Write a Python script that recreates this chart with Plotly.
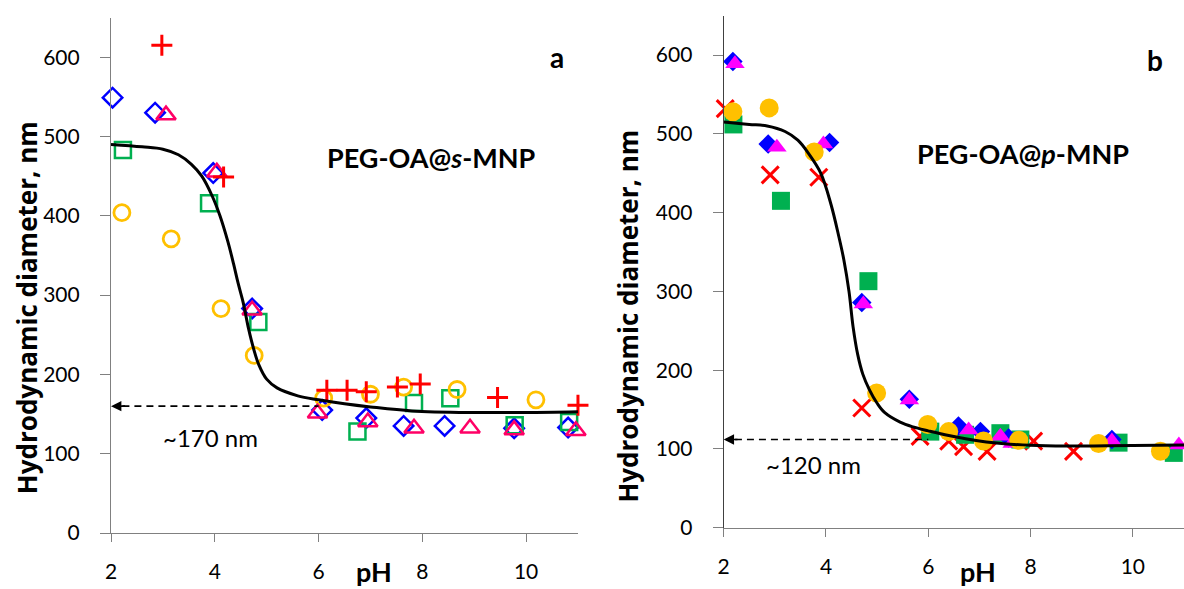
import plotly.graph_objects as go
from plotly.subplots import make_subplots

# %% panel a: PEG-OA@s-MNP (open symbols)
a_diamond_ph = [2.03, 2.85, 3.97, 4.72, 6.07, 6.92, 7.64, 8.43, 9.77, 10.81]
a_diamond_d = [549, 530, 454, 283, 155, 145, 135, 135, 132, 133]
a_square_ph = [2.23, 3.89, 4.84, 6.75, 7.84, 8.54, 9.78, 10.83]
a_square_d = [483, 416, 266, 128, 164, 170, 136, 140]
a_circle_ph = [2.21, 3.16, 4.12, 4.76, 6.10, 7.00, 7.64, 8.67, 10.19]
a_circle_d = [404, 371, 283, 224, 170, 175, 184, 181, 168]
a_triangle_ph = [3.06, 4.04, 4.72, 5.98, 6.95, 7.84, 8.92, 9.77, 10.96]
a_triangle_d = [527, 455, 281, 151, 140, 132, 132, 130, 129]
a_plus_ph = [2.98, 4.17, 6.16, 6.55, 6.92, 7.52, 7.96, 9.45, 11.0]
a_plus_d = [615, 449, 180, 180, 178, 184, 188, 171, 161]

a_fit_ph = [2.0, 2.6, 3.0, 3.3, 3.55, 3.75, 3.95, 4.1, 4.25, 4.36, 4.45, 4.55,
            4.65, 4.75, 4.85, 5.0, 5.2, 5.6, 6.0, 6.5, 7.0, 7.8, 9.0, 10.0, 11.0]
a_fit_d = [490, 487, 484, 477, 465, 450, 425, 400, 368, 340, 315, 290,
           258, 232, 212, 194, 183, 173, 168, 163, 159, 154, 152, 152, 153]
a_plateau = 160
a_label = "~170 nm"

# %% panel b: PEG-OA@p-MNP (filled symbols)
b_x_ph = [2.03, 2.91, 3.86, 4.70, 5.84, 6.40, 6.69, 7.15, 8.06, 8.84]
b_x_d = [532, 448, 445, 152, 116, 110, 103, 97, 110, 97]
b_square_ph = [2.19, 3.12, 4.83, 6.04, 6.72, 7.41, 7.80, 9.72, 10.80]
b_square_d = [512, 415, 313, 122, 118, 120, 112, 108, 95]
b_diamond_ph = [2.18, 2.87, 4.07, 4.70, 5.63, 6.59, 7.02, 7.57, 9.59]
b_diamond_d = [592, 487, 489, 286, 163, 129, 122, 114, 112]
b_triangle_ph = [2.22, 3.04, 3.95, 4.73, 5.63, 6.79, 7.41, 7.64, 9.59, 10.90]
b_triangle_d = [589, 483, 487, 284, 162, 124, 116, 107, 110, 105]
b_circle_ph = [2.18, 2.89, 3.77, 4.99, 5.99, 6.40, 7.08, 7.77, 9.33, 10.54]
b_circle_d = [528, 533, 477, 171, 131, 122, 110, 111, 107, 97]

b_fit_ph = [2.0, 2.5, 2.85, 3.2, 3.45, 3.65, 3.9, 4.1, 4.25, 4.35, 4.45, 4.53,
            4.62, 4.72, 4.85, 5.0, 5.15, 5.45, 5.7, 6.0, 6.4, 7.0, 7.6, 8.3, 9.5, 11.0]
b_fit_d = [515, 512, 510, 503, 492, 476, 450, 410, 370, 340, 300, 255,
           220, 195, 175, 158, 146, 134, 128, 123, 117, 110, 106, 104, 104, 105]
b_plateau = 112
b_label = "~120 nm"

arrow_start = 6.0

FONT = "Lato"

fig = make_subplots(rows=1, cols=2)

def pts(x, y, symbol, color, size, col, lw=2.5):
    fig.add_trace(go.Scatter(
        x=x, y=y, mode="markers", cliponaxis=False,
        marker=dict(symbol=symbol, size=size, color=color,
                    line=dict(color=color, width=lw)),
        showlegend=False), row=1, col=col)

pts(a_diamond_ph, a_diamond_d, "diamond-open", "#0000FF", 15, 1)
pts(a_square_ph, a_square_d, "square-open", "#00B050", 16, 1)
pts(a_circle_ph, a_circle_d, "circle-open", "#FFC000", 16, 1, lw=2.8)
pts(a_triangle_ph, a_triangle_d, "triangle-up-open", "#FF0066", 17, 1)
pts(a_plus_ph, a_plus_d, "cross-thin-open", "#FF0000", 15, 1, lw=3)

pts(b_x_ph, b_x_d, "x-thin-open", "#FF0000", 17, 2, lw=3)
pts(b_square_ph, b_square_d, "square", "#00B050", 18, 2, lw=0)
pts(b_diamond_ph, b_diamond_d, "diamond", "#0000FF", 15, 2, lw=0)
pts(b_triangle_ph, b_triangle_d, "triangle-up", "#FF00FF", 17, 2, lw=0)
pts(b_circle_ph, b_circle_d, "circle", "#FFC000", 19, 2, lw=0)

for col, fx, fy, plat in [(1, a_fit_ph, a_fit_d, a_plateau), (2, b_fit_ph, b_fit_d, b_plateau)]:
    fig.add_trace(go.Scatter(x=[2.22, arrow_start], y=[plat, plat], mode="lines",
                             line=dict(color="black", width=1.6, dash="7px,5px"),
                             showlegend=False), row=1, col=col)
    fig.add_trace(go.Scatter(x=fx, y=fy, mode="lines", line_shape="spline",
                             line=dict(color="black", width=3), showlegend=False),
                  row=1, col=col)
    xr = "x" if col == 1 else "x2"
    yr = "y" if col == 1 else "y2"
    fig.add_annotation(x=2.0, y=plat, ax=2.3, ay=plat, xref=xr, yref=yr,
                       axref=xr, ayref=yr, text="", showarrow=True,
                       arrowhead=2, arrowsize=1.3, arrowwidth=1.6, arrowcolor="black")

axis_common = dict(range=[2, 11], dtick=2, tick0=2, showline=True, linecolor="#808080",
                   linewidth=1.2, ticks="outside", ticklen=8, tickcolor="#808080",
                   showgrid=False, zeroline=False, ticklabelstandoff=12,
                   tickfont=dict(family=FONT, size=21, color="black"))
yaxis_common = dict(range=[0, 650], dtick=100, tick0=0, showline=True, linecolor="#808080",
                    linewidth=1.2, ticks="outside", ticklen=10, tickcolor="#808080",
                    showgrid=False, zeroline=False, ticklabelstandoff=16,
                    tickfont=dict(family=FONT, size=21, color="black"))

fig.update_xaxes(**axis_common)
fig.update_yaxes(**yaxis_common)
fig.update_layout(
    xaxis=dict(domain=[0, 0.4352]),
    xaxis2=dict(domain=[0.571, 1.0]),
    yaxis=dict(domain=[0, 0.995]),
    yaxis2=dict(domain=[0.0102, 0.9986], linecolor="#404040"),
)

def note(text, x, y, xref, yref, font, **kw):
    fig.add_annotation(x=x, y=y, xref=xref, yref=yref, text=text, showarrow=False,
                       font=font, xanchor="center", yanchor="middle", **kw)

ytitle_font = dict(family="Open Sans", size=26, color="black")
note("<b>Hydrodynamic diameter, nm</b>", -0.0783, 0.436, "paper", "paper", ytitle_font, textangle=-90)
note("<b>Hydrodynamic diameter, nm</b>", 0.4815, 0.419, "paper", "paper", ytitle_font, textangle=-90)

ph_font = dict(family=FONT, size=27, color="black")
note("<b>pH</b>", 7.06, -0.074, "x", "paper", ph_font)
note("<b>pH</b>", 6.98, -0.074, "x2", "paper", ph_font)

panel_font = dict(family=FONT, size=28, color="black")
note("<b>a</b>", 0.4157, 0.919, "paper", "paper", panel_font)
note("<b>b</b>", 0.973, 0.913, "paper", "paper", panel_font)

name_font = dict(family=FONT, size=27, color="black")
note("<b>PEG-OA@<i>s</i>-MNP</b>", 8.18, 473, "x", "y", name_font)
note("<b>PEG-OA@<i>p</i>-MNP</b>", 7.86, 475, "x2", "y2", name_font)

size_font = dict(family=FONT, size=24, color="black")
note(a_label, 3.91, 120, "x", "y", size_font)
note(b_label, 3.75, 80, "x2", "y2", size_font)

fig.update_layout(
    width=1184, height=589,
    margin=dict(l=111, r=0, t=15, b=56),
    plot_bgcolor="white", paper_bgcolor="white",
    showlegend=False,
)

fig.write_html("out.html", config={"displayModeBar": False},
               post_script="document.body.style.margin='0';")
